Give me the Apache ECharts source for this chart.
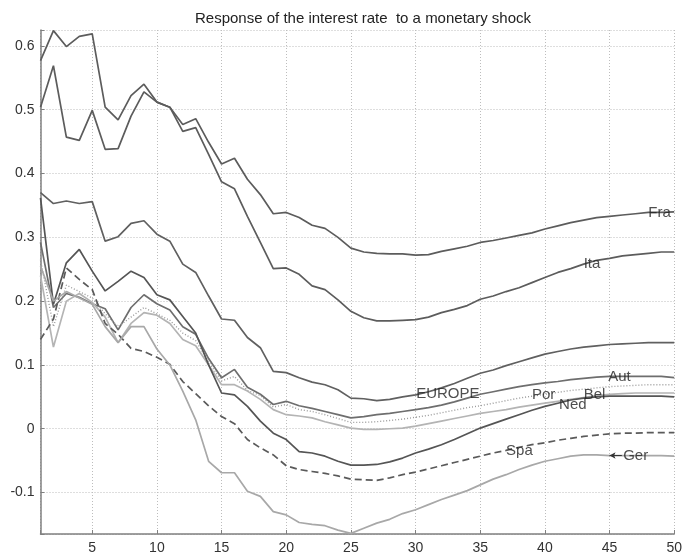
<!DOCTYPE html>
<html>
<head>
<meta charset="utf-8">
<script src="https://cdn.jsdelivr.net/npm/echarts@6/dist/echarts.min.js"></script>
<style>
  html, body { margin: 0; padding: 0; background: #fff; }
  #chart { width: 685px; height: 557px; }
</style>
</head>
<body>
<div id="chart"></div>
<script>
// Impulse responses, horizon 1..50
const horizon = Array.from({ length: 50 }, (_, i) => i + 1);

const fra = [0.577, 0.624, 0.599, 0.615, 0.619, 0.504, 0.484, 0.522, 0.540, 0.512,
  0.504, 0.477, 0.486, 0.449, 0.415, 0.424, 0.391, 0.367, 0.337, 0.339,
  0.331, 0.319, 0.314, 0.300, 0.283, 0.277, 0.275, 0.274, 0.274, 0.272,
  0.273, 0.278, 0.282, 0.286, 0.292, 0.295, 0.299, 0.303, 0.307, 0.313,
  0.318, 0.323, 0.327, 0.331, 0.333, 0.335, 0.337, 0.339, 0.339, 0.340];

const ita = [0.504, 0.569, 0.457, 0.452, 0.499, 0.438, 0.439, 0.490, 0.528, 0.512,
  0.504, 0.466, 0.472, 0.430, 0.387, 0.376, 0.333, 0.292, 0.251, 0.252,
  0.242, 0.224, 0.218, 0.202, 0.184, 0.174, 0.169, 0.169, 0.170, 0.171,
  0.175, 0.182, 0.187, 0.193, 0.203, 0.208, 0.215, 0.221, 0.229, 0.237,
  0.245, 0.251, 0.258, 0.264, 0.267, 0.271, 0.273, 0.275, 0.277, 0.277];

const europe = [0.370, 0.353, 0.357, 0.353, 0.356, 0.294, 0.301, 0.322, 0.326, 0.305,
  0.294, 0.258, 0.245, 0.208, 0.172, 0.170, 0.143, 0.127, 0.090, 0.088,
  0.080, 0.073, 0.069, 0.061, 0.048, 0.047, 0.044, 0.046, 0.050, 0.053,
  0.058, 0.064, 0.071, 0.079, 0.087, 0.092, 0.099, 0.105, 0.111, 0.117,
  0.121, 0.125, 0.128, 0.130, 0.132, 0.133, 0.134, 0.135, 0.135, 0.135];

const aut = [0.292, 0.190, 0.212, 0.206, 0.196, 0.188, 0.155, 0.190, 0.210, 0.196,
  0.186, 0.160, 0.148, 0.110, 0.080, 0.093, 0.065, 0.054, 0.038, 0.043,
  0.036, 0.032, 0.027, 0.022, 0.017, 0.019, 0.022, 0.024, 0.027, 0.030,
  0.033, 0.037, 0.042, 0.048, 0.054, 0.058, 0.062, 0.066, 0.069, 0.072,
  0.074, 0.077, 0.079, 0.081, 0.082, 0.082, 0.082, 0.082, 0.082, 0.080];

const por = [0.265, 0.160, 0.225, 0.215, 0.205, 0.180, 0.160, 0.175, 0.190, 0.180,
  0.170, 0.150, 0.138, 0.105, 0.075, 0.082, 0.060, 0.052, 0.034, 0.038,
  0.030, 0.027, 0.022, 0.016, 0.010, 0.010, 0.011, 0.013, 0.015, 0.018,
  0.021, 0.025, 0.029, 0.033, 0.036, 0.040, 0.044, 0.048, 0.051, 0.054,
  0.057, 0.060, 0.062, 0.064, 0.066, 0.067, 0.068, 0.069, 0.069, 0.069];

const bel = [0.240, 0.128, 0.200, 0.212, 0.198, 0.175, 0.135, 0.165, 0.182, 0.178,
  0.165, 0.140, 0.130, 0.100, 0.069, 0.069, 0.059, 0.046, 0.030, 0.022,
  0.020, 0.017, 0.011, 0.006, 0.001, -0.001, -0.001, 0.000, 0.001, 0.004,
  0.008, 0.012, 0.016, 0.020, 0.024, 0.027, 0.030, 0.034, 0.037, 0.040,
  0.043, 0.046, 0.049, 0.052, 0.054, 0.055, 0.056, 0.056, 0.056, 0.056];

const ned = [0.362, 0.195, 0.260, 0.281, 0.247, 0.216, 0.231, 0.247, 0.237, 0.210,
  0.202, 0.176, 0.150, 0.100, 0.056, 0.053, 0.035, 0.012, -0.007, -0.017,
  -0.036, -0.038, -0.043, -0.051, -0.057, -0.057, -0.056, -0.052, -0.046, -0.038,
  -0.032, -0.025, -0.017, -0.008, 0.001, 0.008, 0.015, 0.022, 0.029, 0.035,
  0.040, 0.045, 0.048, 0.050, 0.051, 0.051, 0.051, 0.051, 0.051, 0.050];

const spa = [0.140, 0.172, 0.252, 0.234, 0.218, 0.165, 0.148, 0.126, 0.121, 0.112,
  0.101, 0.074, 0.055, 0.036, 0.019, 0.008, -0.017, -0.030, -0.041, -0.058,
  -0.064, -0.067, -0.070, -0.074, -0.079, -0.080, -0.081, -0.077, -0.072, -0.068,
  -0.063, -0.058, -0.053, -0.048, -0.043, -0.038, -0.034, -0.029, -0.025, -0.022,
  -0.018, -0.015, -0.012, -0.010, -0.008, -0.007, -0.007, -0.006, -0.006, -0.006];

const ger = [0.255, 0.200, 0.215, 0.205, 0.195, 0.160, 0.135, 0.160, 0.160, 0.125,
  0.100, 0.059, 0.014, -0.051, -0.069, -0.069, -0.098, -0.106, -0.130, -0.135,
  -0.147, -0.150, -0.152, -0.159, -0.164, -0.156, -0.148, -0.142, -0.133, -0.127,
  -0.119, -0.111, -0.104, -0.097, -0.088, -0.079, -0.072, -0.064, -0.057, -0.051,
  -0.047, -0.043, -0.041, -0.041, -0.042, -0.042, -0.042, -0.042, -0.042, -0.043];

// Curve names and where their tags sit (horizon, value)
const tagNames = ['Fra', 'Ita', 'EUROPE', 'Por', 'Ned', 'Bel', 'Aut', 'Spa'];
const tagX = [48.0, 43.0, 30.05, 39.0, 41.1, 43.0, 44.9, 37.0];
const tagY = [0.339, 0.258, 0.055, 0.053, 0.038, 0.053, 0.082, -0.035];

const pairs = (vals) => horizon.map((h, i) => [h, vals[i]]);

const line = (name, vals, color, width, type) => ({
  name, type: 'line', data: pairs(vals), symbol: 'none', silent: true,
  lineStyle: { color, width, type: type || 'solid' }, z: 3
});

// Ger is tagged with a small arrow pointing at its value at horizon 45
const gerIdx = 44;
const gerSeries = line('Ger', ger, '#a8a8a8', 1.7);
gerSeries.markLine = {
  silent: true, symbol: ['arrow', 'none'], symbolSize: [5, 6],
  lineStyle: { color: '#333', width: 1, type: 'solid' },
  label: { show: false },
  data: [[{ coord: [horizon[gerIdx], ger[gerIdx]] }, { coord: [horizon[gerIdx] + 0.95, ger[gerIdx]] }]]
};

const font = 'Liberation Sans, Arial, sans-serif';

const tagSeries = {
  type: 'scatter', symbolSize: 0, silent: true, z: 5,
  data: tagNames.map((n, i) => ({ name: n, value: [tagX[i], tagY[i]] }))
    .concat([{ name: 'Ger', value: [horizon[gerIdx] + 1.05, ger[gerIdx]] }]),
  label: {
    show: true, position: 'right', distance: 0,
    formatter: (p) => p.name,
    fontFamily: font, fontSize: 15, color: '#222'
  }
};

const gridLine = { show: true, lineStyle: { color: '#bdbdbd', type: [1, 2], width: 1 } };
const axisLine = { show: true, onZero: false, lineStyle: { color: '#808080', width: 1.5 } };

const chart = echarts.init(document.getElementById('chart'), null, { renderer: 'canvas' });
chart.setOption({
  backgroundColor: '#fff',
  animation: false,
  title: {
    text: 'Response of the interest rate  to a monetary shock',
    left: 358, top: 6, textAlign: 'center',
    textStyle: { fontFamily: font, fontSize: 15, fontWeight: 'normal', color: '#222' }
  },
  grid: { left: 40.5, right: 10, top: 30, bottom: 23, containLabel: false },
  xAxis: {
    type: 'value', min: 1, max: 50, splitNumber: 10,
    axisLine, splitLine: gridLine,
    axisTick: { show: true, inside: true, length: 4, lineStyle: { color: '#808080' } },
    axisLabel: {
      margin: 7, color: '#333', fontSize: 14, fontFamily: font,
      formatter: (v) => (Math.abs(v % 5) < 1e-9 ? String(v) : '')
    }
  },
  yAxis: {
    type: 'value', min: -0.165, max: 0.625, splitNumber: 8,
    axisLine, splitLine: gridLine,
    axisTick: { show: true, inside: true, length: 4, lineStyle: { color: '#808080' } },
    axisLabel: {
      margin: 6, color: '#333', fontSize: 14, fontFamily: font,
      formatter: (v) => {
        const t = Math.round(v * 10);
        return Math.abs(v * 10 - t) < 1e-6 ? String(t / 10) : '';
      }
    }
  },
  series: [
    line('Fra', fra, '#5c5c5c', 1.7),
    line('Ita', ita, '#5c5c5c', 1.7),
    line('EUROPE', europe, '#606060', 1.7),
    line('Aut', aut, '#6e6e6e', 1.7),
    line('Por', por, '#9a9a9a', 1.4, [1, 2]),
    line('Bel', bel, '#b4b4b4', 1.7),
    line('Ned', ned, '#555555', 1.7),
    line('Spa', spa, '#5a5a5a', 1.7, [7, 4]),
    gerSeries,
    tagSeries
  ]
});
</script>
</body>
</html>
